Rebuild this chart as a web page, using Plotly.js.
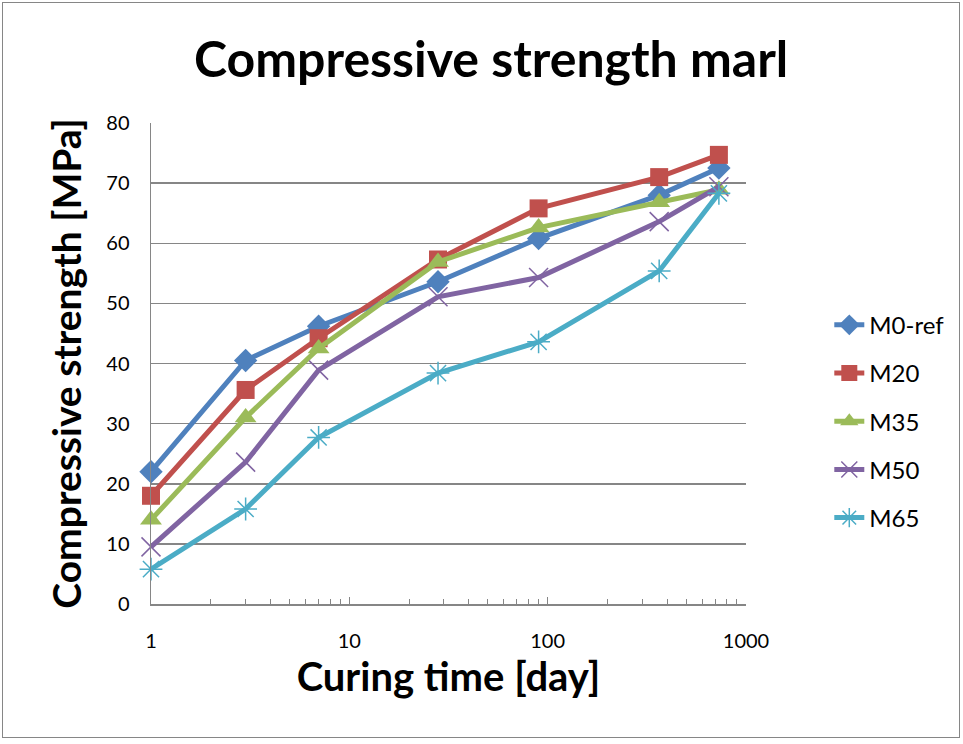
<!DOCTYPE html>
<html>
<head>
<meta charset="utf-8">
<script src="https://cdn.plot.ly/plotly-3.0.1.min.js"></script>
<style>
html,body{margin:0;padding:0;background:#fff;}
#frame{position:absolute;left:2px;top:2px;width:958px;height:736px;border:1px solid #868686;box-sizing:border-box;}
#chart{position:absolute;left:0;top:0;width:963px;height:744px;}
</style>
</head>
<body>
<div id="frame"></div>
<div id="chart"></div>
<script>
const days = [1, 3, 7, 28, 90, 365, 730];
const seriesNames = ["M0-ref", "M20", "M35", "M50", "M65"];
const m0ref = [22.0, 40.5, 46.2, 53.6, 60.8, 68.0, 72.5];
const m20   = [18.0, 35.6, 44.2, 57.3, 65.8, 71.0, 74.7];
const m35   = [14.0, 31.0, 42.5, 56.9, 62.6, 66.8, 68.9];
const m50   = [9.5, 23.6, 38.9, 51.1, 54.3, 63.6, 69.4];
const m65   = [5.8, 15.8, 27.7, 38.4, 43.6, 55.4, 68.3];
const xTickVals = [1, 10, 100, 1000];
const xTickText = ["1", "10", "100", "1000"];

const values = [m0ref, m20, m35, m50, m65];
const colors = ["#4F81BD", "#C0504D", "#9BBB59", "#8064A2", "#4BACC6"];
const symbols = ["diamond", "square", "triangle-up", "x-thin-open", "asterisk-open"];
const sizes = [18, 18, 19, 19, 19];

const FONT = "Lato, 'Open Sans', sans-serif";

const traces = values.map((v, i) => ({
  x: days, y: v, name: seriesNames[i], type: "scatter", mode: "lines+markers",
  legendgroup: "g" + i,
  line: {color: colors[i], width: 5},
  marker: {symbol: symbols[i], size: sizes[i], color: colors[i],
           line: {color: colors[i], width: (i >= 3 ? 1.5 : 0)}},
  cliponaxis: false
}));

const layout = {
  width: 963, height: 744,
  margin: {l: 151, r: 217, t: 123, b: 140},
  paper_bgcolor: "rgba(0,0,0,0)", plot_bgcolor: "rgba(0,0,0,0)",
  font: {family: FONT, color: "#000"},
  title: {text: "<b>Compressive strength marl</b>", font: {size: 50, family: FONT, color: "#000"},
          x: 0.51, xref: "container", y: 0.92, yref: "container", yanchor: "middle"},
  xaxis: {
    type: "log", range: [0, 3],
    tickvals: xTickVals, ticktext: xTickText,
    showline: true, linecolor: "#868686", linewidth: 1.5,
    showgrid: false, zeroline: false,
    ticks: "inside", ticklen: 7, tickcolor: "#868686", tickwidth: 1,
    ticklabelstandoff: 18,
    minor: {ticks: "inside", ticklen: 5, tickcolor: "#868686", tickwidth: 1, dtick: "D1", showgrid: false},
    tickfont: {size: 20, family: FONT},
    title: {text: "<b>Curing time [day]</b>", font: {size: 40, family: FONT}, standoff: 12}
  },
  yaxis: {
    range: [0, 80], dtick: 10,
    showline: true, linecolor: "#868686", linewidth: 1.5,
    showgrid: true, gridcolor: "#868686", gridwidth: 1.5,
    zeroline: false, ticks: "",
    ticklabelstandoff: 16,
    tickfont: {size: 20, family: FONT},
    title: {text: "<b>Compressive strength [MPa]</b>", font: {size: 39, family: FONT}, standoff: 12}
  },
  legend: {
    x: 1.14, xanchor: "left", y: 0.38, yanchor: "middle",
    font: {size: 24, family: FONT}, tracegroupgap: 14,
    bgcolor: "rgba(0,0,0,0)"
  },
  showlegend: true
};

Plotly.newPlot("chart", traces, layout, {displayModeBar: false, staticPlot: true});
</script>
</body>
</html>
